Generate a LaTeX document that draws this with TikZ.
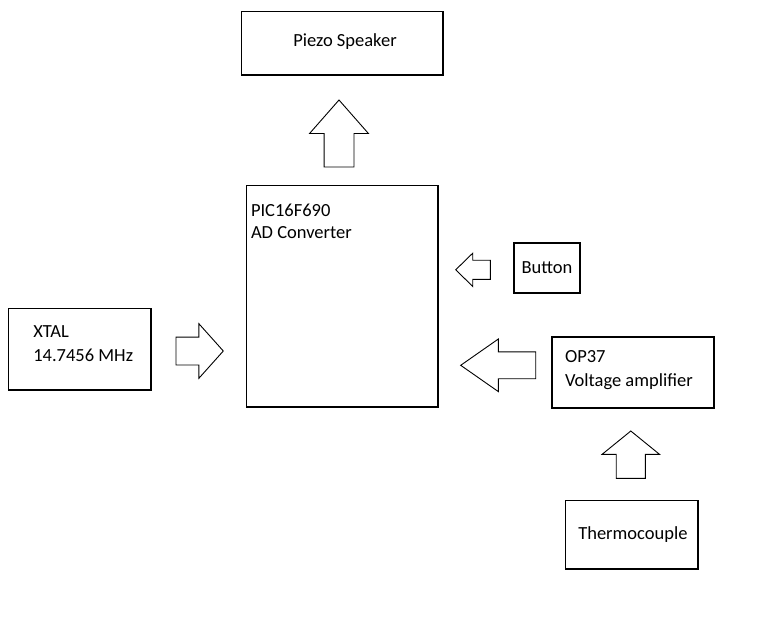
\documentclass[tikz,border=0pt]{standalone}
\usepackage{fontspec}
\setmainfont{Carlito}
\usetikzlibrary{shapes.arrows}

\begin{document}
\begin{tikzpicture}[x=1pt,y=-1pt,
  box node/.style={rectangle,draw,line width=1.4pt,inner sep=0pt,outer sep=0pt,anchor=north west},
  text node/.style={inner sep=0pt,outer sep=0pt,font=\fontsize{18.5}{24}\selectfont,align=left},
  arrow node/.style={single arrow,draw,line width=0.9pt,inner sep=0pt,outer sep=0pt,anchor=tail}]

  \useasboundingbox (0,0) rectangle (771,618);

  % blocks
  \node[box node,minimum width=201.5pt,minimum height=63.5pt] (speaker) at (241.5,11.5) {};
  \node[box node,minimum width=191.5pt,minimum height=221.5pt] (pic) at (246.5,185.5) {};
  \node[box node,minimum width=66pt,minimum height=50pt] (button) at (514,243) {};
  \node[box node,minimum width=162pt,minimum height=71pt] (amp) at (552,337) {};
  \node[box node,minimum width=132.5pt,minimum height=68.5pt] (thermo) at (565.5,500.5) {};
  \node[box node,minimum width=142.5pt,minimum height=81.5pt] (xtal) at (8.5,308.5) {};

  % texts
  \node[text node,anchor=base west] (speaker text) at (293.3,46.7) {Piezo Speaker};
  \node[text node,anchor=north west] (pic text) at (251,204.5) {PIC16F690\\[-2pt]AD Converter};
  \node[text node,anchor=base west] (button text) at (521.5,273) {Button};
  \node[text node,anchor=north west] (amp text) at (565,350) {OP37\\Voltage amplifier};
  \node[text node,anchor=base west] (thermo text) at (578.3,539) {Thermocouple};
  \node[text node,anchor=north west] (xtal text) at (33.3,326) {XTAL\\14.7456 MHz};

  % block arrows
  \node[arrow node,rotate=90,minimum height=67pt,inner ysep=14.5pt,
    single arrow head extend=14.5pt,single arrow tip angle=82.6] (pic2speaker) at (339,167) {};
  \node[arrow node,minimum height=47.3pt,inner ysep=13.5pt,
    single arrow head extend=13.35pt,single arrow tip angle=96.4] (xtal2pic) at (176,351) {};
  \node[arrow node,rotate=180,minimum height=34.6pt,inner ysep=9.15pt,
    single arrow head extend=7.05pt,single arrow tip angle=88.6] (button2pic) at (490.3,269.8) {};
  \node[arrow node,rotate=180,minimum height=75pt,inner ysep=13pt,
    single arrow head extend=12.85pt,single arrow tip angle=69.9] (amp2pic) at (535.7,365.3) {};
  \node[arrow node,rotate=90,minimum height=47.3pt,inner ysep=14.15pt,
    single arrow head extend=14.15pt,single arrow tip angle=101.8] (thermo2amp) at (630.8,478.3) {};

\end{tikzpicture}
\end{document}
